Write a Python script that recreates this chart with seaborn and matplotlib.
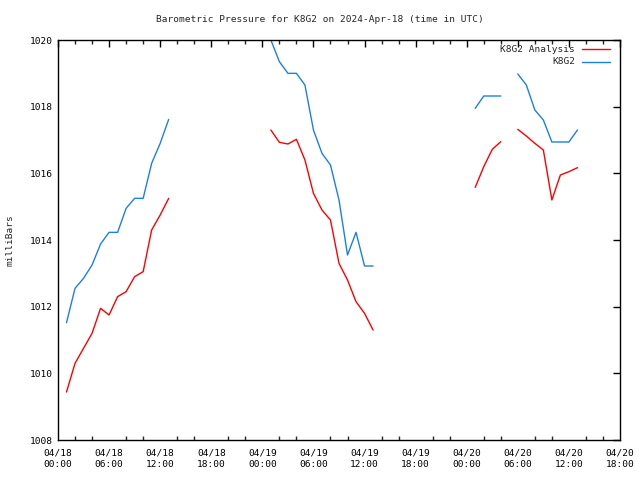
import numpy as np
import pandas as pd
import matplotlib
matplotlib.use("Agg")
import matplotlib.pyplot as plt
import matplotlib.dates as mdates
import seaborn as sns

# hours after 2024-04-18 00:00 UTC
hours = [1, 2, 3, 4, 5, 6, 7, 8, 9, 10, 11, 12, 13,
         25, 26, 27, 28, 29, 30, 31, 32, 33, 34, 35, 36, 37,
         49, 50, 51, 52,
         54, 55, 56, 57, 58, 59, 60, 61]
segment = [0] * 13 + [1] * 13 + [2] * 4 + [3] * 8

k8g2 = [1011.52, 1012.55, 1012.85, 1013.25, 1013.88, 1014.23, 1014.23, 1014.95, 1015.25, 1015.25, 1016.30, 1016.90, 1017.62,
        1020.00, 1019.35, 1019.00, 1019.00, 1018.65, 1017.30, 1016.60, 1016.25, 1015.20, 1013.55, 1014.23, 1013.22, 1013.22,
        1017.95, 1018.32, 1018.32, 1018.32,
        1018.98, 1018.65, 1017.90, 1017.60, 1016.94, 1016.94, 1016.94, 1017.30]

analysis = [1009.44, 1010.30, 1010.75, 1011.20, 1011.95, 1011.75, 1012.30, 1012.45, 1012.90, 1013.05, 1014.30, 1014.75, 1015.25,
            1017.30, 1016.93, 1016.88, 1017.02, 1016.40, 1015.40, 1014.90, 1014.60, 1013.30, 1012.80, 1012.15, 1011.80, 1011.30,
            1015.58, 1016.20, 1016.72, 1016.95,
            1017.32, 1017.12, 1016.90, 1016.70, 1015.20, 1015.95, 1016.05, 1016.17]

series_names = ["K8G2 Analysis", "K8G2"]
colors = {"K8G2 Analysis": "#ff0000", "K8G2": "#1a80e8"}

start = pd.Timestamp("2024-04-18 00:00")
times = [start + pd.Timedelta(hours=h) for h in hours]

df = pd.concat([
    pd.DataFrame({"time": times, "pressure": analysis, "seg": segment, "series": series_names[0]}),
    pd.DataFrame({"time": times, "pressure": k8g2, "seg": segment, "series": series_names[1]}),
], ignore_index=True)

sns.set_style("white")
mono = ["DejaVu Sans Mono"]
FS = 6.8
plt.rcParams["font.family"] = mono
plt.rcParams["font.size"] = FS

fig = plt.figure(figsize=(6.4, 4.8), dpi=100)
ax = fig.add_axes([58 / 640, 40 / 480, 562 / 640, 400 / 480])

sns.lineplot(data=df, x="time", y="pressure", hue="series", units="seg",
             estimator=None, palette=colors, hue_order=series_names,
             linewidth=1.0, ax=ax, legend=False)

ax.set_xlim(start, start + pd.Timedelta(hours=66))
ax.set_ylim(1008, 1020)
ax.set_yticks(np.arange(1008, 1021, 2))
ax.set_yticklabels([str(v) for v in range(1008, 1021, 2)])
ax.xaxis.set_major_locator(mdates.HourLocator(byhour=[0, 6, 12, 18]))
ax.xaxis.set_minor_locator(mdates.HourLocator(byhour=range(0, 24, 2)))
ax.xaxis.set_major_formatter(mdates.DateFormatter("%m/%d\n%H:%M"))

for s in ax.spines.values():
    s.set_color("black")
    s.set_linewidth(1.0)
ax.tick_params(axis="both", which="major", direction="in", length=5, width=1,
               top=True, right=True, labelsize=FS, colors="black", pad=4)
ax.tick_params(axis="x", which="minor", direction="in", length=3, width=1,
               top=True, bottom=True)
ax.tick_params(axis="x", pad=6)
for lab in ax.get_xticklabels():
    lab.set_linespacing(1.45)

ax.set_xlabel("")
ax.set_ylabel("milliBars", fontsize=FS, labelpad=11)
fig.text(0.5, 1 - 19 / 480, "Barometric Pressure for K8G2 on 2024-Apr-18 (time in UTC)",
         ha="center", va="center", fontsize=FS, family=mono)

# legend (gnuplot style: text right-aligned, sample to the right)
for i, name in enumerate(series_names):
    yy = 1 - (49 + 13 * i) / 480
    fig.text(575 / 640, yy, name, ha="right", va="center", fontsize=FS, family=mono)
    fig.add_artist(plt.Line2D([582 / 640, 610 / 640], [yy, yy], color=colors[name], linewidth=1.0))

fig.savefig("out.png", dpi=100)
